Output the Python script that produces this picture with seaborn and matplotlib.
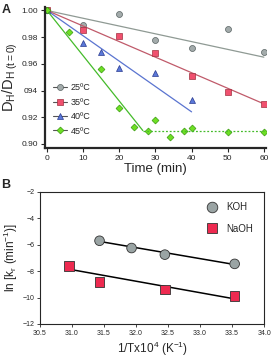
import numpy as np
import pandas as pd
import matplotlib.pyplot as plt
import seaborn as sns

# panel A: D_H / D_H(t=0) vs time
t25 = [0, 10, 20, 30, 40, 50, 60]
d25 = [1.000, 0.989, 0.997, 0.978, 0.972, 0.986, 0.969]
t35 = [0, 10, 20, 30, 40, 50, 60]
d35 = [1.000, 0.985, 0.981, 0.968, 0.951, 0.939, 0.930]
t40 = [0, 10, 15, 20, 30, 40]
d40 = [1.000, 0.976, 0.969, 0.957, 0.953, 0.933]
t45 = [0, 6, 15, 20, 24, 28, 30, 34, 38, 40, 50, 60]
d45 = [1.000, 0.984, 0.956, 0.927, 0.913, 0.910, 0.918, 0.905, 0.910, 0.912, 0.909, 0.909]

# fitted lines (end points)
fit25_t, fit25_d = [0, 60], [1.000, 0.965]
fit35_t, fit35_d = [0, 60], [1.000, 0.930]
fit40_t, fit40_d = [0, 40], [1.000, 0.924]
fit45_t, fit45_d = [0, 26.5], [1.000, 0.910]
plateau_t, plateau_d = [26.5, 60], [0.910, 0.910]

a_yticks = [0.90, 0.92, 0.94, 0.96, 0.98, 1.00]
a_yticklabels = ["0.90", "0.92", "094", "0.96", "0.98", "1.00"]
a_xticks = [0, 10, 20, 30, 40, 50, 60]

# panel B: Arrhenius plot
inv_t_koh = [31.43, 31.93, 32.45, 33.54]
lnk_koh = [-5.70, -6.25, -6.75, -7.45]
inv_t_naoh = [30.95, 31.43, 32.45, 33.54]
lnk_naoh = [-7.60, -8.80, -9.40, -9.90]
fit_koh_x, fit_koh_y = [31.43, 33.54], [-5.75, -7.50]
fit_naoh_x, fit_naoh_y = [30.95, 33.54], [-7.85, -10.10]

b_xticks = [30.5, 31.0, 31.5, 32.0, 32.5, 33.0, 33.5, 34.0]
b_yticks = [-12, -10, -8, -6, -4, -2]

sns.set_style("ticks")
plt.rcParams["font.family"] = ["Liberation Sans", "DejaVu Sans"]
plt.rcParams["mathtext.fontset"] = "custom"
plt.rcParams["mathtext.rm"] = "Liberation Sans"
plt.rcParams["mathtext.it"] = "Liberation Sans"

fig = plt.figure(figsize=(2.72, 3.58), dpi=100)
ax1 = fig.add_axes([0.165, 0.587, 0.813, 0.393])
ax2 = fig.add_axes([0.147, 0.095, 0.824, 0.369])

series = [
    ("25ºC", t25, d25, fit25_t, fit25_d, "o", "#a3abab", "#556060", "#8f9a94", 4.3),
    ("35ºC", t35, d35, fit35_t, fit35_d, "s", "#f0506e", "#a03040", "#c05a6a", 4.3),
    ("40ºC", t40, d40, fit40_t, fit40_d, "^", "#5a78d8", "#2a3a90", "#5a74d0", 4.3),
    ("45ºC", t45, d45, fit45_t, fit45_d, "D", "#6ee024", "#3a9a10", "#44bb2a", 3.5),
]
for label, tx, dy, ft, fd, mk, fc, ec, lc, ms in series:
    sns.lineplot(x=ft, y=fd, ax=ax1, color=lc, lw=0.9)
    ax1.plot(tx, dy, ls="none", marker=mk, ms=ms, mfc=fc, mec=ec, mew=0.5)
    ax1.plot([], [], color="#555555", lw=0.8, marker=mk, ms=ms, mfc=fc, mec=ec,
             mew=0.5, label=label)
sns.lineplot(x=plateau_t, y=plateau_d, ax=ax1, color="#44bb2a", lw=0.9,
             linestyle=(0, (1.5, 1.5)))

ax1.set_xlim(-0.6, 60.6)
ax1.set_ylim(0.897, 1.0025)
ax1.set_xticks(a_xticks)
ax1.set_yticks(a_yticks)
ax1.set_yticklabels(a_yticklabels)
ax1.tick_params(labelsize=6, length=3, width=0.8, pad=2)
for s in ["left", "bottom"]:
    ax1.spines[s].set_linewidth(1.6)
sns.despine(ax=ax1)
ax1.set_xlabel("Time (min)", fontsize=9.5, labelpad=1)
ax1.set_ylabel("D$_H$/D$_{H\\ (t=0)}$", fontsize=10.5, labelpad=1)
ax1.legend(loc="lower left", bbox_to_anchor=(0.0, 0.03), frameon=False,
           fontsize=6.5, handlelength=1.6, handletextpad=0.4, labelspacing=0.6)

# panel B
df_b = pd.DataFrame({
    "x": inv_t_koh + inv_t_naoh,
    "y": lnk_koh + lnk_naoh,
    "base": ["KOH"] * len(inv_t_koh) + ["NaOH"] * len(inv_t_naoh),
})
sns.lineplot(x=fit_koh_x, y=fit_koh_y, ax=ax2, color="black", lw=1.1)
sns.lineplot(x=fit_naoh_x, y=fit_naoh_y, ax=ax2, color="black", lw=1.1)
sns.scatterplot(data=df_b, x="x", y="y", hue="base", style="base",
                markers={"KOH": "o", "NaOH": "s"},
                palette={"KOH": "#9aa4a4", "NaOH": "#ee2a50"},
                s=48, edgecolor="#333333", linewidth=0.6, ax=ax2, zorder=3)
ax2.set_xlim(30.5, 34.0)
ax2.set_ylim(-12, -2)
ax2.set_xticks(b_xticks)
ax2.set_xticklabels([f"{v:.1f}" for v in b_xticks])
ax2.set_yticks(b_yticks)
ax2.tick_params(labelsize=5, length=2, width=0.6, pad=2)
for s in ax2.spines.values():
    s.set_linewidth(0.8)
ax2.set_xlabel("1/Tx10$^4$ (K$^{-1}$)", fontsize=8.5, labelpad=2)
ax2.set_ylabel("ln [k$_r$ (min$^{-1}$)]", fontsize=8.5, labelpad=2)
ax2.legend(loc="upper right", bbox_to_anchor=(0.99, 0.99), frameon=False,
           fontsize=7, handletextpad=0.5, labelspacing=1.2, title=None,
           markerscale=1.1)

fig.text(0.005, 0.99, "A", fontsize=9, fontweight="bold", va="top")
fig.text(0.005, 0.50, "B", fontsize=9, fontweight="bold", va="top")

fig.savefig("out.png", dpi=100)
